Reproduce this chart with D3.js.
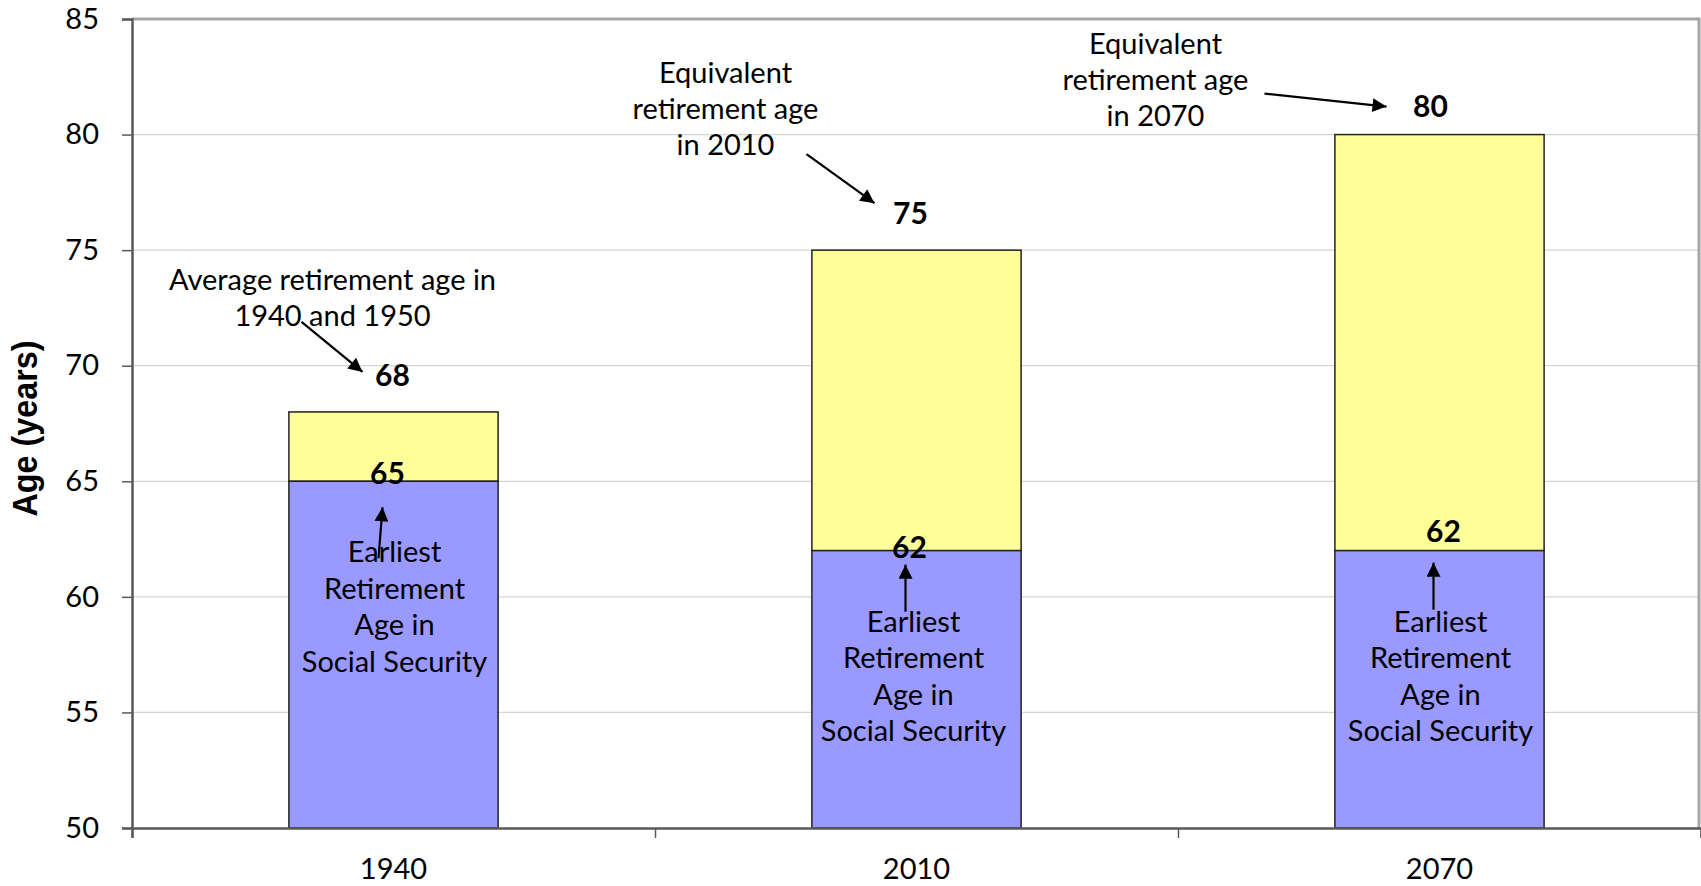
<!DOCTYPE html>
<html>
<head>
<meta charset="utf-8">
<script src="https://cdn.jsdelivr.net/npm/d3@7"></script>
<style>
  body { margin: 0; background: #fff; }
  text { fill: #000; }
  .tick text { font-family: Lato, 'Open Sans', sans-serif; font-size: 29px; }
  .note { font-family: Lato, 'Open Sans', sans-serif; font-size: 29px; }
  .val { font-family: Lato, sans-serif; font-size: 30px; font-weight: 700; }
</style>
</head>
<body>
<div class="chart"></div>
<script>
const years = ['1940', '2010', '2070'];
const earliestAge = [65, 62, 62];
const equivalentAge = [68, 75, 80];
const yTicks = [50, 55, 60, 65, 70, 75, 80, 85];

const topNotes = [
  ['Average retirement age in', '1940 and 1950'],
  ['Equivalent', 'retirement age', 'in 2010'],
  ['Equivalent', 'retirement age', 'in 2070']
];
const baseNote = ['Earliest', 'Retirement', 'Age in', 'Social Security'];

// label / arrow offsets (px) from bar centre and the value's y
const topLayout = [
  { lab: [-1, -36], txt: [-61, -132], from: [-92, -90], to: [-31, -40] },
  { lab: [-6, -37], txt: [-191, -177], from: [-110, -96], to: [-42, -47] },
  { lab: [-9, -28], txt: [-284, -91], from: [-175, -41], to: [-53, -28] }
];
const baseLayout = [
  { lab: [-6, -8], txt: [1, 71], from: [-15, 77], to: [-11, 26] },
  { lab: [-7, -3], txt: [-3, 71], from: [-11, 61], to: [-11, 14] },
  { lab: [4, -19], txt: [1, 71], from: [-6, 59], to: [-6, 12] }
];

const width = 1701,
  height = 886,
  margin = { top: 19, right: 0, bottom: 58, left: 132 };

const svg = d3.select('.chart').append('svg')
  .attr('width', width)
  .attr('height', height);

svg.append('defs').append('marker')
  .attr('id', 'head')
  .attr('viewBox', '0 0 10 10')
  .attr('refX', 10).attr('refY', 5)
  .attr('markerUnits', 'userSpaceOnUse')
  .attr('markerWidth', 16).attr('markerHeight', 14)
  .attr('orient', 'auto')
  .append('path')
  .attr('d', 'M0,0L10,5L0,10Z')
  .attr('fill', '#000');

const x = d3.scaleBand()
  .domain(years)
  .range([margin.left, width - margin.right])
  .paddingInner(0.6)
  .paddingOuter(0.3);

const y = d3.scaleLinear()
  .domain([50, 85])
  .range([height - margin.bottom, margin.top]);

const cx = d => x(d) + x.bandwidth() / 2;

// gridlines
svg.append('g')
  .selectAll('line')
  .data(yTicks.filter(t => t > 50 && t < 85))
  .join('line')
  .attr('x1', margin.left).attr('x2', width - 2)
  .attr('y1', d => y(d)).attr('y2', d => y(d))
  .attr('stroke', '#d4d4d4')
  .attr('stroke-width', 1.2);

// top + right border
svg.append('path')
  .attr('d', `M${margin.left},${y(85)}H${width - 2}V${y(50)}`)
  .attr('fill', 'none')
  .attr('stroke', '#a6a6a6')
  .attr('stroke-width', 3);

// stacked bars
const rows = years.map((yr, i) => ({ yr, low: earliestAge[i], high: equivalentAge[i] }));

svg.append('g').selectAll('rect')
  .data(rows)
  .join('rect')
  .attr('x', d => x(d.yr))
  .attr('width', x.bandwidth())
  .attr('y', d => y(d.high))
  .attr('height', d => y(d.low) - y(d.high))
  .attr('fill', '#ffff99')
  .attr('stroke', '#222')
  .attr('stroke-width', 1.5);

svg.append('g').selectAll('rect')
  .data(rows)
  .join('rect')
  .attr('x', d => x(d.yr))
  .attr('width', x.bandwidth())
  .attr('y', d => y(d.low))
  .attr('height', d => y(50) - y(d.low))
  .attr('fill', '#9999ff')
  .attr('stroke', '#222')
  .attr('stroke-width', 1.5);

// axes
const yAxis = svg.append('g')
  .attr('transform', `translate(${margin.left},0)`)
  .call(d3.axisLeft(y).tickValues(yTicks).tickSize(10).tickPadding(23));
yAxis.select('.domain').attr('stroke', '#595959').attr('stroke-width', 2.5);
yAxis.selectAll('.tick line').attr('stroke', '#595959').attr('stroke-width', 1.5);

const edge = d3.scaleLinear().domain([0, years.length]).range(x.range());
const xTicks = svg.append('g')
  .attr('transform', `translate(0,${y(50)})`)
  .call(d3.axisBottom(edge).tickValues(d3.range(years.length + 1)).tickSize(10).tickFormat(''));
xTicks.select('.domain').attr('stroke', '#595959').attr('stroke-width', 2.5);
xTicks.selectAll('.tick line').attr('stroke', '#595959').attr('stroke-width', 1.5);

const xAxis = svg.append('g')
  .attr('transform', `translate(0,${y(50)})`)
  .call(d3.axisBottom(x).tickSize(0).tickPadding(30));
xAxis.select('.domain').remove();

// narrow bold title, squeezed to the reference length
svg.append('text')
  .attr('transform', `translate(25,${(y(50) + y(85)) / 2 + 5}) rotate(-90)`)
  .attr('text-anchor', 'middle')
  .attr('dy', '0.35em')
  .attr('textLength', 176)
  .attr('lengthAdjust', 'spacingAndGlyphs')
  .style('font-family', "'Liberation Sans', Arial, sans-serif")
  .style('font-weight', 700)
  .style('font-size', '35px')
  .text('Age (years)');

// annotations
function note(g, lines, px, py, lh) {
  g.append('text')
    .attr('class', 'note')
    .attr('text-anchor', 'middle')
    .selectAll('tspan')
    .data(lines)
    .join('tspan')
    .attr('x', px)
    .attr('y', (d, i) => py + i * lh)
    .attr('dy', '0.35em')
    .text(d => d);
}

function arrow(g, x1, y1, x2, y2) {
  g.append('line')
    .attr('x1', x1).attr('y1', y1)
    .attr('x2', x2).attr('y2', y2)
    .attr('stroke', '#000')
    .attr('stroke-width', 2.2)
    .attr('marker-end', 'url(#head)');
}

const ann = svg.append('g');

rows.forEach((d, i) => {
  const c = cx(d.yr);
  const t = topLayout[i], b = baseLayout[i];
  const yh = y(d.high), yl = y(d.low);

  ann.append('text').attr('class', 'val')
    .attr('text-anchor', 'middle').attr('dy', '0.35em')
    .attr('x', c + t.lab[0]).attr('y', yh + t.lab[1])
    .text(d.high);
  note(ann, topNotes[i], c + t.txt[0], yh + t.txt[1], 36);
  arrow(ann, c + t.from[0], yh + t.from[1], c + t.to[0], yh + t.to[1]);

  ann.append('text').attr('class', 'val')
    .attr('text-anchor', 'middle').attr('dy', '0.35em')
    .attr('x', c + b.lab[0]).attr('y', yl + b.lab[1])
    .text(d.low);
  note(ann, baseNote, c + b.txt[0], yl + b.txt[1], 36.5);
  arrow(ann, c + b.from[0], yl + b.from[1], c + b.to[0], yl + b.to[1]);
});
</script>
</body>
</html>
